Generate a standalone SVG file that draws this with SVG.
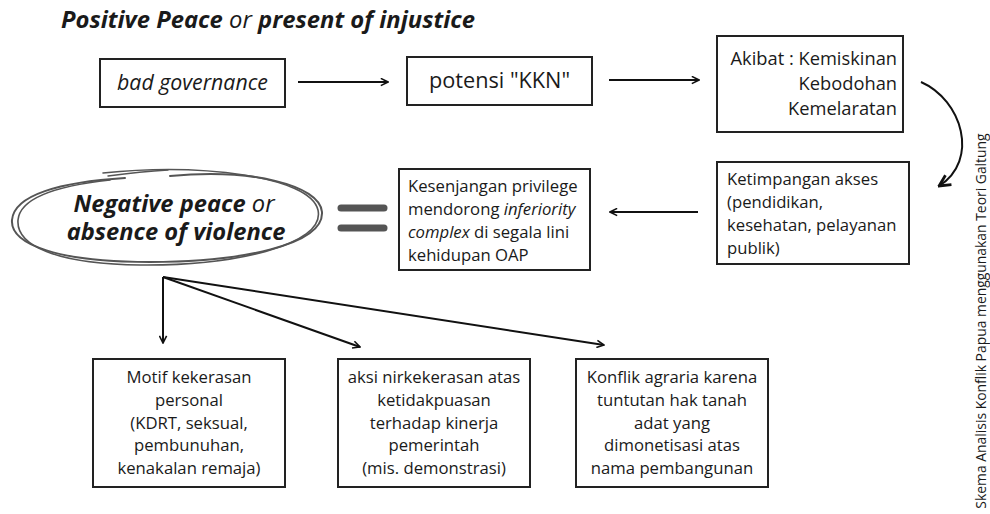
<svg xmlns="http://www.w3.org/2000/svg" width="990" height="514" viewBox="0 0 990 514">
<defs>
<marker id="ah" viewBox="0 0 10 10" refX="9" refY="5" markerWidth="9" markerHeight="9" markerUnits="userSpaceOnUse" orient="auto">
<path d="M1,1 L9,5 L1,9" fill="none" stroke="#111" stroke-width="1.8"/>
</marker>
<marker id="ahb" viewBox="0 0 10 10" refX="9" refY="5" markerWidth="14" markerHeight="14" markerUnits="userSpaceOnUse" orient="auto">
<path d="M1,1 L9,5 L1,9" fill="none" stroke="#111" stroke-width="2"/>
</marker>
</defs>
<style>
.box{fill:#fff;stroke:#222;stroke-width:2}
.t{font-family:"Open Sans","Noto Sans","Liberation Sans",sans-serif;fill:#1a1a1a}
.s16{font-size:16.7px}
.bi{font-weight:bold;font-style:italic}
.c{stroke:#111;stroke-width:2;fill:none}
.sc{fill:none;stroke:#555;stroke-linecap:round}
</style>
<rect width="990" height="514" fill="#fff"/>
<text class="t bi" x="61" y="28" font-size="23.8">Positive Peace <tspan font-weight="normal">or</tspan> present of injustice</text>

<g id="n-bad">
<rect class="box" x="100" y="59" width="185" height="48"/>
<text class="t" font-size="21.3" x="192.5" y="90" text-anchor="middle" font-style="italic">bad governance</text>
</g>
<g id="n-kkn">
<rect class="box" x="407" y="57" width="185" height="48"/>
<text class="t" font-size="21.7" x="499.5" y="88" text-anchor="middle">potensi "KKN"</text>
</g>
<g id="n-akibat">
<rect class="box" x="717" y="36" width="186" height="96"/>
<text class="t" font-size="18.3" text-anchor="end"><tspan x="897" y="65">Akibat : Kemiskinan</tspan><tspan x="897" y="90">Kebodohan</tspan><tspan x="897" y="115">Kemelaratan</tspan></text>
</g>
<g id="n-ketimpangan">
<rect class="box" x="717" y="162" width="192" height="102"/>
<text class="t s16"><tspan x="727" y="185">Ketimpangan akses</tspan><tspan x="727" y="208">(pendidikan,</tspan><tspan x="727" y="231">kesehatan, pelayanan</tspan><tspan x="727" y="254">publik)</tspan></text>
</g>
<g id="n-kesenjangan">
<rect class="box" x="399" y="169" width="191" height="101"/>
<text class="t s16"><tspan x="408" y="192">Kesenjangan privilege</tspan><tspan x="408" y="215">mendorong <tspan font-style="italic">inferiority</tspan></tspan><tspan x="408" y="238"><tspan font-style="italic">complex</tspan> di segala lini</tspan><tspan x="408" y="261">kehidupan OAP</tspan></text>
</g>
<g id="n-equals">
<line x1="341" y1="208" x2="384" y2="208" stroke="#555" stroke-width="7" stroke-linecap="round"/>
<line x1="341" y1="228" x2="384" y2="228" stroke="#555" stroke-width="7" stroke-linecap="round"/>
</g>
<g id="n-negative">
<path class="sc" stroke-width="2" d="M170,176 C250,168 320,185 322,212 C324,245 240,262 150,262 C60,262 10,245 12,220 C14,195 60,182 125,178"/>
<path class="sc" stroke-width="1.6" d="M103,173 C200,163 310,176 318,210 C326,246 230,266 140,265 C55,264 16,245 18,220 C20,198 55,186 110,180"/>
<path class="sc" stroke-width="1.4" d="M108,176 C130,173 150,171 168,170"/>
<text class="t bi" font-size="23.7" text-anchor="middle" x="174" y="212">Negative peace <tspan font-weight="normal">or</tspan></text>
<text class="t bi" font-size="23.7" text-anchor="middle" x="176" y="240">absence of violence</text>
</g>
<g id="n-motif">
<rect class="box" x="93" y="359" width="192" height="128"/>
<text class="t s16" text-anchor="middle"><tspan x="189" y="383">Motif kekerasan</tspan><tspan x="189" y="406">personal</tspan><tspan x="189" y="429">(KDRT, seksual,</tspan><tspan x="189" y="451">pembunuhan,</tspan><tspan x="189" y="474">kenakalan remaja)</tspan></text>
</g>
<g id="n-aksi">
<rect class="box" x="338" y="359" width="192" height="128"/>
<text class="t s16" text-anchor="middle"><tspan x="434" y="383">aksi nirkekerasan atas</tspan><tspan x="434" y="406">ketidakpuasan</tspan><tspan x="434" y="429">terhadap kinerja</tspan><tspan x="434" y="451">pemerintah</tspan><tspan x="434" y="474">(mis. demonstrasi)</tspan></text>
</g>
<g id="n-konflik">
<rect class="box" x="576" y="359" width="192" height="128"/>
<text class="t s16" text-anchor="middle"><tspan x="672" y="383">Konflik agraria karena</tspan><tspan x="672" y="406">tuntutan hak tanah</tspan><tspan x="672" y="429">adat yang</tspan><tspan x="672" y="451">dimonetisasi atas</tspan><tspan x="672" y="474">nama pembangunan</tspan></text>
</g>
<g id="n-caption">
<text class="t" font-size="13.9" fill="#333" transform="translate(986,321) rotate(-90)" text-anchor="middle">Skema Analisis Konflik Papua menggunakan Teori Galtung</text>
</g>

<g id="connectors">
<line class="c" x1="298" y1="82" x2="388" y2="82" marker-end="url(#ah)"/>
<line class="c" x1="609" y1="80" x2="699" y2="80" marker-end="url(#ah)"/>
<path class="c" stroke-width="2.5" d="M921,82 C962,100 980,160 939,186" marker-end="url(#ahb)"/>
<line class="c" x1="698" y1="212" x2="610" y2="212" marker-end="url(#ah)"/>
<line class="c" x1="163" y1="277" x2="163" y2="343" marker-end="url(#ah)"/>
<line class="c" x1="163" y1="277" x2="360" y2="347" marker-end="url(#ah)"/>
<line class="c" x1="163" y1="277" x2="604" y2="345" marker-end="url(#ah)"/>
</g>
</svg>
